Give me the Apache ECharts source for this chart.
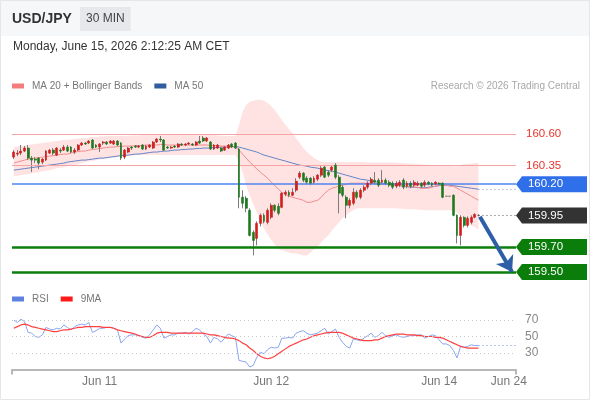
<!DOCTYPE html>
<html><head><meta charset="utf-8">
<script src="https://cdn.jsdelivr.net/npm/echarts@6/dist/echarts.min.js"></script>
<style>html,body{margin:0;padding:0;background:#fff}#c{width:590px;height:400px}</style>
</head><body><div id="c"></div>
<script>
// ---------- DATA ----------
// 30-minute candles: [open, close, low, high]
const candles = [
[160.416,160.456,160.400,160.472],[160.440,160.448,160.424,160.472],[160.448,160.464,160.432,160.512],[160.464,160.488,160.456,160.504],[160.488,160.408,160.392,160.512],
[160.408,160.392,160.296,160.424],[160.400,160.392,160.368,160.416],[160.408,160.368,160.320,160.416],[160.376,160.400,160.360,160.408],[160.392,160.464,160.384,160.472],
[160.448,160.472,160.440,160.480],[160.472,160.448,160.432,160.488],[160.432,160.488,160.424,160.496],[160.472,160.464,160.448,160.488],[160.472,160.496,160.464,160.512],
[160.496,160.464,160.456,160.512],[160.496,160.456,160.448,160.504],[160.456,160.472,160.440,160.488],[160.472,160.512,160.464,160.520],[160.512,160.528,160.504,160.536],
[160.528,160.520,160.512,160.536],[160.528,160.544,160.520,160.552],[160.552,160.488,160.480,160.560],[160.512,160.496,160.488,160.520],[160.496,160.520,160.456,160.528],
[160.528,160.536,160.512,160.544],[160.536,160.520,160.512,160.544],[160.528,160.544,160.520,160.552],[160.520,160.544,160.512,160.552],[160.544,160.512,160.504,160.552],
[160.528,160.408,160.392,160.536],[160.416,160.472,160.400,160.480],[160.456,160.488,160.448,160.496],[160.496,160.488,160.472,160.504],[160.504,160.496,160.488,160.512],
[160.496,160.504,160.488,160.512],[160.512,160.480,160.472,160.520],[160.480,160.504,160.472,160.512],[160.496,160.512,160.488,160.520],[160.488,160.536,160.480,160.544],
[160.536,160.560,160.528,160.568],[160.560,160.552,160.536,160.584],[160.552,160.472,160.464,160.560],[160.496,160.488,160.480,160.504],[160.488,160.496,160.480,160.504],
[160.504,160.496,160.488,160.512],[160.496,160.520,160.488,160.528],[160.520,160.512,160.504,160.528],[160.512,160.520,160.504,160.528],[160.520,160.528,160.512,160.536],
[160.520,160.512,160.504,160.528],[160.512,160.536,160.504,160.544],[160.544,160.528,160.520,160.584],[160.568,160.544,160.536,160.584],[160.544,160.568,160.536,160.576],
[160.536,160.480,160.472,160.544],[160.480,160.512,160.472,160.520],[160.488,160.512,160.480,160.520],[160.488,160.464,160.456,160.496],[160.472,160.496,160.464,160.504],
[160.488,160.512,160.480,160.520],[160.520,160.496,160.488,160.528],[160.528,160.488,160.480,160.536],[160.480,160.096,160.008,160.488],[160.096,160.048,160.008,160.152],
[160.088,160.008,159.976,160.104],[159.992,159.792,159.784,160.008],[159.816,159.752,159.632,159.832],[159.768,159.888,159.712,159.904],[159.888,159.952,159.864,159.968],
[159.952,159.904,159.888,159.968],[159.896,159.992,159.880,160.008],[159.936,160.032,159.920,160.048],[160.032,159.992,159.976,160.040],[160.024,159.968,159.952,160.048],
[160.016,160.128,160.008,160.136],[160.120,160.136,160.104,160.152],[160.136,160.112,160.096,160.152],[160.112,160.136,160.104,160.168],[160.152,160.224,160.136,160.248],
[160.256,160.288,160.240,160.304],[160.288,160.232,160.216,160.296],[160.248,160.216,160.200,160.264],[160.248,160.208,160.192,160.256],[160.216,160.248,160.200,160.264],
[160.240,160.272,160.224,160.280],[160.272,160.328,160.256,160.344],[160.336,160.256,160.248,160.352],[160.296,160.272,160.256,160.312],[160.312,160.336,160.296,160.352],
[160.352,160.256,160.240,160.368],[160.256,160.128,159.968,160.272],[160.176,160.112,160.096,160.192],[160.096,160.032,159.928,160.112],[160.032,160.072,160.008,160.088],
[160.048,160.136,160.032,160.168],[160.136,160.096,160.080,160.152],[160.096,160.152,160.080,160.168],[160.152,160.176,160.136,160.192],[160.176,160.208,160.160,160.224],
[160.208,160.240,160.192,160.256],[160.232,160.216,160.200,160.296],[160.232,160.192,160.176,160.248],[160.216,160.232,160.200,160.312],[160.232,160.208,160.192,160.248],
[160.216,160.192,160.176,160.232],[160.208,160.176,160.160,160.224],[160.184,160.208,160.168,160.224],[160.192,160.216,160.176,160.232],[160.232,160.176,160.160,160.248],
[160.184,160.208,160.168,160.224],[160.208,160.184,160.168,160.224],[160.192,160.216,160.176,160.232],[160.192,160.208,160.184,160.224],[160.208,160.184,160.168,160.216],
[160.192,160.216,160.176,160.232],[160.216,160.200,160.192,160.224],[160.208,160.192,160.184,160.216],[160.200,160.216,160.192,160.224],[160.208,160.200,160.192,160.216],
[160.208,160.096,160.088,160.216],[160.104,160.104,160.104,160.104],[160.104,160.104,160.104,160.104],[160.112,159.952,159.944,160.120],[159.952,159.792,159.728,159.960],
[159.792,159.936,159.712,159.952],[159.936,159.872,159.856,159.944],[159.872,159.928,159.856,159.944],[159.896,159.936,159.880,159.952],[159.936,159.960,159.928,159.968],
[159.952,159.952,159.944,159.960]
];
const ma20 = [
160.368,160.376,160.384,160.392,160.400,160.404,160.408,160.412,160.416,160.420,
160.424,160.428,160.432,160.436,160.440,160.440,160.448,160.456,160.460,160.464,
160.464,160.472,160.476,160.480,160.484,160.488,160.492,160.496,160.496,160.500,
160.500,160.504,160.504,160.504,160.508,160.508,160.508,160.512,160.512,160.512,
160.512,160.516,160.516,160.512,160.512,160.512,160.512,160.512,160.512,160.512,
160.512,160.512,160.512,160.512,160.512,160.508,160.508,160.508,160.504,160.504,
160.504,160.500,160.496,160.472,160.440,160.408,160.376,160.352,160.320,160.296,
160.272,160.248,160.216,160.192,160.160,160.136,160.120,160.104,160.096,160.088,
160.080,160.072,160.056,160.056,160.064,160.072,160.096,160.128,160.152,160.168,
160.176,160.184,160.192,160.200,160.208,160.208,160.208,160.208,160.208,160.208,
160.208,160.208,160.200,160.200,160.200,160.200,160.192,160.192,160.192,160.184,
160.184,160.184,160.176,160.176,160.168,160.168,160.168,160.176,160.184,160.192,
160.192,160.192,160.184,160.184,160.168,160.152,160.136,160.120,160.104,160.088,
160.072];
const ma50 = [
160.312,160.316,160.320,160.324,160.328,160.332,160.336,160.340,160.344,160.348,
160.352,160.356,160.360,160.364,160.368,160.376,160.380,160.384,160.388,160.392,
160.392,160.396,160.400,160.404,160.408,160.408,160.412,160.416,160.420,160.424,
160.428,160.432,160.432,160.436,160.440,160.440,160.444,160.448,160.452,160.456,
160.456,160.460,160.464,160.464,160.468,160.472,160.472,160.476,160.476,160.480,
160.480,160.484,160.484,160.488,160.488,160.488,160.492,160.492,160.496,160.496,
160.496,160.500,160.500,160.496,160.488,160.480,160.472,160.464,160.456,160.444,
160.432,160.424,160.416,160.408,160.400,160.392,160.384,160.376,160.368,160.360,
160.352,160.348,160.344,160.336,160.332,160.328,160.320,160.312,160.308,160.304,
160.296,160.288,160.280,160.272,160.264,160.256,160.248,160.240,160.236,160.232,
160.224,160.220,160.216,160.208,160.204,160.200,160.196,160.192,160.188,160.184,
160.180,160.176,160.176,160.172,160.172,160.172,160.176,160.180,160.184,160.188,
160.192,160.192,160.192,160.188,160.184,160.180,160.176,160.172,160.168,160.164,
160.160];
const bbUpper = [
160.496,160.500,160.504,160.508,160.512,160.516,160.520,160.524,160.528,160.532,
160.536,160.540,160.544,160.548,160.552,160.552,160.556,160.560,160.564,160.568,
160.568,160.572,160.576,160.576,160.580,160.580,160.584,160.584,160.584,160.584,
160.584,160.584,160.584,160.588,160.588,160.588,160.592,160.592,160.592,160.592,
160.592,160.596,160.596,160.592,160.592,160.592,160.592,160.592,160.592,160.592,
160.592,160.592,160.596,160.596,160.596,160.592,160.592,160.588,160.588,160.584,
160.584,160.584,160.584,160.672,160.776,160.832,160.856,160.864,160.872,160.872,
160.864,160.848,160.824,160.792,160.752,160.712,160.672,160.640,160.608,160.568,
160.528,160.488,160.456,160.432,160.408,160.392,160.376,160.376,160.376,160.376,
160.376,160.376,160.376,160.376,160.376,160.376,160.376,160.376,160.376,160.372,
160.372,160.372,160.372,160.372,160.372,160.372,160.372,160.372,160.368,160.368,
160.364,160.364,160.360,160.360,160.356,160.356,160.352,160.352,160.352,160.352,
160.352,160.352,160.348,160.344,160.344,160.352,160.360,160.360,160.364,160.368,
160.368];
const bbLower = [
160.264,160.268,160.272,160.276,160.280,160.288,160.292,160.296,160.304,160.308,
160.312,160.320,160.328,160.332,160.336,160.344,160.348,160.352,160.360,160.368,
160.376,160.380,160.384,160.392,160.396,160.400,160.404,160.408,160.412,160.416,
160.420,160.424,160.424,160.428,160.428,160.432,160.432,160.432,160.432,160.432,
160.432,160.432,160.432,160.432,160.432,160.432,160.432,160.432,160.432,160.432,
160.432,160.432,160.432,160.432,160.432,160.432,160.432,160.432,160.432,160.432,
160.432,160.432,160.432,160.376,160.296,160.192,160.112,160.040,159.976,159.912,
159.848,159.800,159.760,159.720,159.688,159.672,159.664,159.656,159.648,159.648,
159.640,159.632,159.632,159.656,159.680,159.704,159.736,159.768,159.792,159.832,
159.864,159.896,159.928,159.952,159.976,159.992,160.008,160.008,160.008,160.008,
160.008,160.008,160.008,160.008,160.008,160.008,160.008,160.008,160.004,160.004,
160.000,160.000,160.000,159.996,159.996,159.992,159.992,159.992,159.992,159.992,
159.992,159.992,159.992,159.984,159.976,159.944,159.912,159.888,159.872,159.856,
159.840];
const rsi = [
70,67,71,68,55,54,50,49,52,61, 59,58,60,59,64,61,58,62,64,65,
64,67,55,57,60,60,61,61,60,58, 42,47,51,52,52,51,49,48,52,58,
64,60,48,50,52,52,54,54,55,53, 56,60,58,53,50,42,49,47,43,48,
53,51,49,21,20,19,13,15,25,31, 29,34,37,36,37,48,48,49,48,54,
56,57,54,52,53,54,57,60,53,56, 59,49,43,38,36,47,46,45,48,51,
54,49,51,55,51,49,51,52,50,49, 50,51,51,52,52,48,50,52,51,46,
41,41,39,33,24,38,37,38,40,39, 39];
const rsiMA9 = [
60,62,64,65,64,62,61,60,59,58, 57,56,56,57,58,58,59,60,61,61,
62,62,62,62,62,61,61,61,60,58, 57,56,55,54,53,51,50,49,49,51,
54,55,55,55,54,54,54,54,54,54, 54,54,54,54,53,52,52,51,50,49,
48,48,47,45,42,40,36,33,29,26, 24,23,24,26,29,32,35,38,40,42,
44,46,47,49,51,52,53,54,55,55, 55,55,54,52,50,48,47,46,45,45,
45,46,46,48,50,51,52,53,53,53, 52,52,52,51,51,50,50,50,49,49,
48,46,44,42,40,38,37,36,36,36, 36];
const slotCount = 141;                        // 131 candles + empty future slots
const xTickSlots  = [24.5, 72.5, 119.5, 139];
const xTickLabels = ['Jun 11', 'Jun 12', 'Jun 14', 'Jun 24'];
const resistanceLevels = [160.60, 160.35];
const pivotLevel = 160.20;
const supportLevels = [159.70, 159.50];
const boxLevels = [160.20, 159.95, 159.70, 159.50];
const arrowFrom = [130.9, 159.94];
const arrowTo = [139.9, 159.50];
const rsiGuides = [30, 50, 70];

// ---------- STYLE ----------
const boxColors = ['#2f6fe9', '#333333', '#0b7d0b', '#0b7d0b'];
const FONT = '"Liberation Sans", Arial, sans-serif';

const X = i => i + 0.5;
const last = candles.length - 1;
const lastClose = candles[last][1];
const wickData = candles.map((d, i) => [X(i), d[0], d[1], d[2], d[3]]);
const bodyData = candles.map((d, i) => [X(i), d[0], d[1], Math.min(d[0], d[1]), Math.max(d[0], d[1])]);
const xy = arr => arr.map((v, i) => [X(i), v]);
const bandData = bbUpper.map((v, i) => [X(i), v, bbLower[i]]);

function renderBand(params, api) {
  if (params.dataIndex !== 0) return null;
  const pts = [];
  for (let i = 0; i < bandData.length; i++) pts.push(api.coord([bandData[i][0], bandData[i][1]]));
  for (let i = bandData.length - 1; i >= 0; i--) pts.push(api.coord([bandData[i][0], bandData[i][2]]));
  return {type: 'polygon', shape: {points: pts}, style: {fill: 'rgba(255,140,140,0.24)'}, silent: true};
}

const chart = echarts.init(document.getElementById('c'), null, {renderer: 'canvas'});
chart.setOption({
  animation: false,
  textStyle: {fontFamily: FONT},
  graphic: [
    {type: 'rect', z: -10, shape: {x: 0, y: 0, width: 590, height: 36}, style: {fill: '#f6f7f8'}},
    {type: 'rect', z: -10, shape: {x: 0.5, y: 0.5, width: 589, height: 399}, style: {fill: 'none', stroke: '#e4e6e9', lineWidth: 1}}
  ],
  title: [
    {text: 'USD/JPY', left: 12, top: 12, padding: 0, textStyle: {fontSize: 14, fontWeight: 'bold', color: '#333', fontFamily: FONT}},
    {text: '30 MIN', left: 80, top: 7, padding: [6, 6], backgroundColor: '#e6e8eb', textStyle: {fontSize: 12, fontWeight: 'normal', color: '#444', fontFamily: FONT}},
    {text: 'Monday, June 15, 2026 2:12:25 AM CET', left: 13, top: 41, padding: 0, textStyle: {fontSize: 12, fontWeight: 'normal', color: '#333', fontFamily: FONT}},
    {text: 'Research \u00a9 2026 Trading Central', right: 10, top: 81, padding: 0, textStyle: {fontSize: 10, fontWeight: 'normal', color: '#a8a8a8', fontFamily: FONT}}
  ],
  legend: [
    {left: 12, top: 81, padding: 0, itemWidth: 12, itemHeight: 5, itemGap: 12, icon: 'rect',
     textStyle: {color: '#777', fontSize: 10, padding: [0, 0, 0, 3]},
     data: [{name: 'MA 20 + Bollinger Bands', itemStyle: {color: '#f47c7c'}}, {name: 'MA 50', itemStyle: {color: '#2f5d9f'}}]},
    {left: 12, top: 294, padding: 0, itemWidth: 12, itemHeight: 5, itemGap: 12, icon: 'rect',
     textStyle: {color: '#777', fontSize: 10, padding: [0, 0, 0, 3]},
     data: [{name: 'RSI', itemStyle: {color: '#5d82e0'}}, {name: '9MA', itemStyle: {color: '#ff1a1a'}}]}
  ],
  grid: [
    {left: 12, width: 504, top: 96.35, height: 188.25},
    {left: 12, width: 504, top: 303.5, height: 66}
  ],
  xAxis: [
    {type: 'value', gridIndex: 0, min: 0, max: slotCount, show: false},
    {type: 'value', gridIndex: 1, min: 0, max: slotCount,
     axisLine: {show: true, lineStyle: {color: '#b8b8b8', width: 2}},
     axisTick: {show: true, customValues: [0, slotCount], length: 5, lineStyle: {color: '#b8b8b8', width: 2}},
     splitLine: {show: false},
     axisLabel: {customValues: xTickSlots, margin: 6, color: '#777', fontSize: 12,
       formatter: v => { const k = xTickSlots.indexOf(v); return k >= 0 ? xTickLabels[k] : ''; }}}
  ],
  yAxis: [
    {type: 'value', gridIndex: 0, min: 159.4, max: 160.9, show: false},
    {type: 'value', gridIndex: 1, min: 10, max: 90, position: 'right',
     axisLine: {show: false}, axisTick: {show: false}, splitLine: {show: false},
     axisLabel: {customValues: rsiGuides, margin: 9, color: '#888', fontSize: 12}}
  ],
  series: [
    {name: 'band', type: 'custom', data: bandData, encode: {x: 0, y: [1, 2]}, renderItem: renderBand, silent: true, z: 1, clip: false},
    {name: 'MA 50', type: 'line', data: xy(ma50), symbol: 'none', color: '#2f5d9f', clip: false,
     lineStyle: {color: '#6283c6', width: 1}, z: 3,
     markLine: {silent: true, symbol: 'none', label: {show: false},
       data: [
         ...resistanceLevels.map(v => ({yAxis: v, lineStyle: {color: '#f5a4a4', width: 1, type: 'solid'},
             label: {show: true, position: 'end', distance: 10, formatter: v.toFixed(2), color: '#e8352d', fontSize: 11.5}})),
         {yAxis: pivotLevel, lineStyle: {color: '#4f84ef', width: 1.6, type: 'solid'}},
         ...supportLevels.map(v => ({yAxis: v, lineStyle: {color: '#0b7d0b', width: 2.5, type: 'solid'}})),
         [{coord: [X(last), lastClose], lineStyle: {color: '#555', width: 1, type: [1, 3]}}, {coord: [slotCount, lastClose]}],
         [{coord: [X(last), ma50[last]], lineStyle: {color: '#7f93c4', width: 1, type: [1, 3]}}, {coord: [slotCount, ma50[last]]}]
       ]},
     markPoint: {silent: true, symbol: 'path://M0,8L6,0L71,0L71,16L6,16Z', symbolSize: [71, 16], symbolOffset: ['50%', 0],
       label: {show: true, color: '#fff', fontSize: 11.5, offset: [-6, 0]},
       data: boxLevels.map((v, k) => ({coord: [slotCount, v], value: v.toFixed(2), itemStyle: {color: boxColors[k]},
         label: {formatter: v.toFixed(2)}}))}
    },
    {name: 'MA 20 + Bollinger Bands', type: 'line', data: xy(ma20), symbol: 'none', color: '#f47c7c', clip: false,
     lineStyle: {color: '#f28b8b', width: 1}, z: 3,
     markLine: {silent: true, symbol: ['none', 'arrow'], symbolSize: 15, label: {show: false},
       data: [[{coord: arrowFrom, lineStyle: {color: '#2d5ea6', width: 4, type: 'solid'}}, {coord: arrowTo}]]}},
    {name: 'wicks', type: 'candlestick', data: wickData, encode: {x: 0, y: [1, 2, 3, 4]}, barWidth: 0.5, z: 4,
     itemStyle: {color: 'rgba(0,0,0,0)', color0: 'rgba(0,0,0,0)', borderColor: '#7c7c7c', borderColor0: '#7c7c7c', borderColorDoji: '#7c7c7c', borderWidth: 1}},
    {name: 'bodies', type: 'candlestick', data: bodyData, encode: {x: 0, y: [1, 2, 3, 4]}, barWidth: 2.4, z: 5,
     itemStyle: {color: '#d21d1d', color0: '#1f7a1f', borderColor: '#d21d1d', borderColor0: '#1f7a1f', borderColorDoji: '#555', borderWidth: 0.6}},
    {name: 'RSI', type: 'line', xAxisIndex: 1, yAxisIndex: 1, data: xy(rsi), symbol: 'none', color: '#5d82e0',
     lineStyle: {color: '#89a5ef', width: 1}, z: 3,
     markLine: {silent: true, symbol: 'none', label: {show: false},
       data: [
         ...rsiGuides.map(v => ({yAxis: v, lineStyle: {color: '#c8c8c8', width: 1, type: [1, 3]}})),
         [{coord: [X(last), rsi[last]], lineStyle: {color: '#6f8fe6', width: 1, type: [1, 3]}}, {coord: [slotCount, rsi[last]]}]
       ]}},
    {name: '9MA', type: 'line', xAxisIndex: 1, yAxisIndex: 1, data: xy(rsiMA9), symbol: 'none', color: '#ff1a1a',
     lineStyle: {color: '#ff4040', width: 1.2}, z: 4}
  ]
});
</script>
</body></html>
